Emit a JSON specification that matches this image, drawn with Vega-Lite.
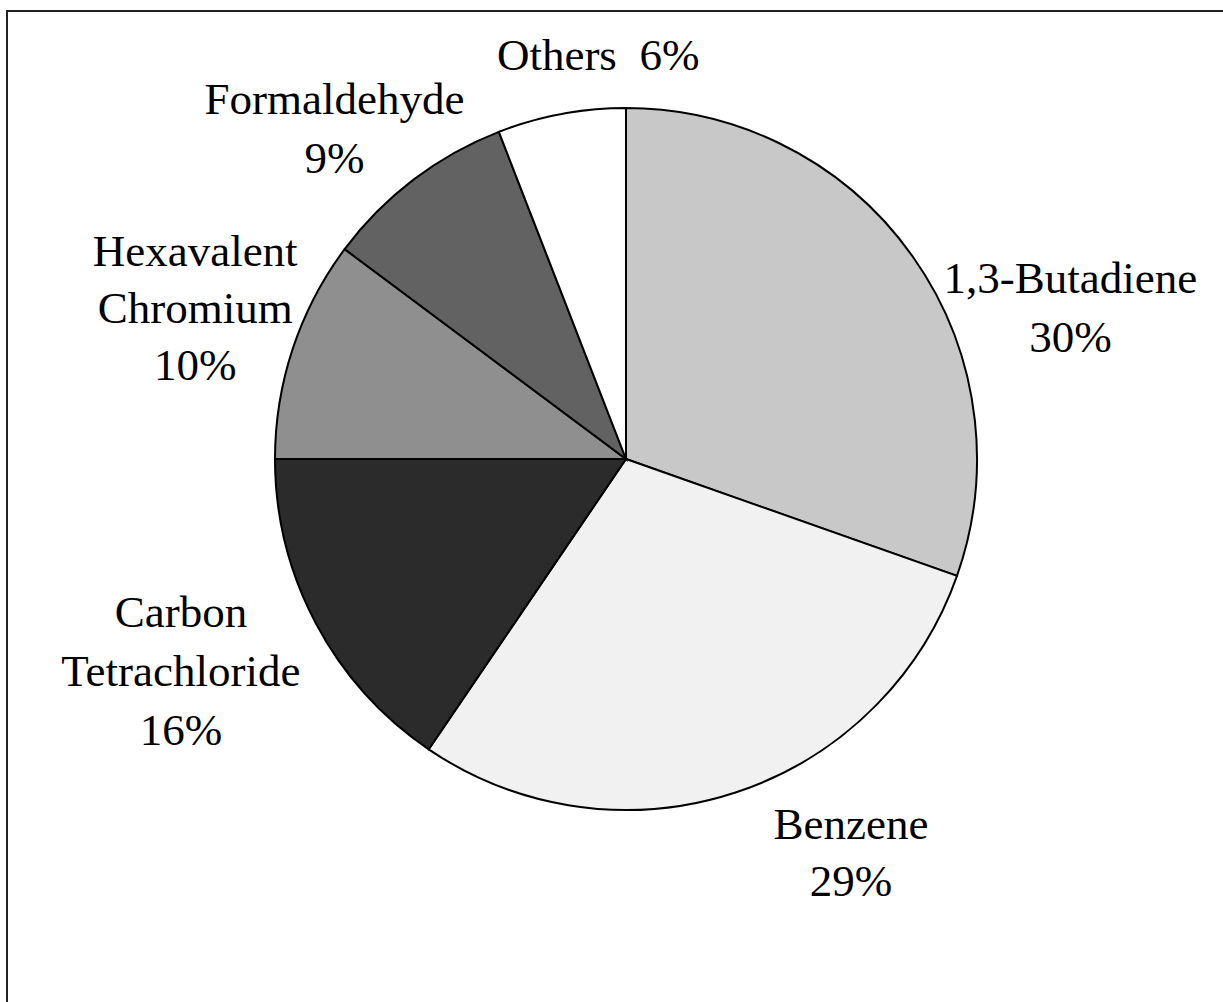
{
  "$schema": "https://vega.github.io/schema/vega-lite/v6.json",
  "width": 1223,
  "height": 1002,
  "autosize": {"type": "fit", "contains": "padding"},
  "padding": {"left": 7, "top": 11, "right": -3, "bottom": -3},
  "background": "#ffffff",
  "view": {"stroke": "#222222", "strokeWidth": 2},
  "data": {
    "values": [
      {"order": 1, "category": "1,3-Butadiene", "value": 30.4, "label": "1,3-Butadiene\n30%"},
      {"order": 2, "category": "Benzene", "value": 29.1, "label": "Benzene\n29%"},
      {"order": 3, "category": "Carbon Tetrachloride", "value": 15.5, "label": "Carbon\nTetrachloride\n16%"},
      {"order": 4, "category": "Hexavalent Chromium", "value": 10.2, "label": "Hexavalent\nChromium\n10%"},
      {"order": 5, "category": "Formaldehyde", "value": 8.9, "label": "Formaldehyde\n9%"},
      {"order": 6, "category": "Others", "value": 5.9, "label": "Others \u00a06%"}
    ]
  },
  "transform": [
    {"stack": "value", "groupby": [], "sort": [{"field": "order", "order": "ascending"}], "as": ["v0", "v1"]},
    {"calculate": "(datum.v0 + datum.v1) / 2", "as": "mid"}
  ],
  "layer": [
    {
      "mark": {"type": "arc", "outerRadius": 351, "stroke": "#000000", "strokeWidth": 2, "x": 619, "y": 448},
      "encoding": {
        "theta": {"field": "v0", "type": "quantitative", "scale": {"domain": [0, 100]}},
        "theta2": {"field": "v1"},
        "color": {
          "field": "category",
          "type": "nominal",
          "scale": {
            "domain": ["1,3-Butadiene", "Benzene", "Carbon Tetrachloride", "Hexavalent Chromium", "Formaldehyde", "Others"],
            "range": ["#c8c8c8", "#f1f1f1", "#2b2b2b", "#8f8f8f", "#626262", "#ffffff"]
          },
          "legend": null
        }
      }
    },
    {
      "transform": [{"filter": "datum.order == 1"}],
      "mark": {"type": "text", "radius": 455, "x": 619, "y": 448, "dx": 73, "dy": 83, "font": "Liberation Serif", "fontSize": 45, "lineBreak": "\n", "lineHeight": 59, "align": "center", "baseline": "middle", "color": "#000000"},
      "encoding": {"theta": {"field": "mid", "type": "quantitative", "scale": {"domain": [0, 100]}}, "text": {"field": "label"}}
    },
    {
      "transform": [{"filter": "datum.order == 2"}],
      "mark": {"type": "text", "radius": 455, "x": 619, "y": 448, "dx": 83, "dy": -66, "font": "Liberation Serif", "fontSize": 45, "lineBreak": "\n", "lineHeight": 57, "align": "center", "baseline": "middle", "color": "#000000"},
      "encoding": {"theta": {"field": "mid", "type": "quantitative", "scale": {"domain": [0, 100]}}, "text": {"field": "label"}}
    },
    {
      "transform": [{"filter": "datum.order == 3"}],
      "mark": {"type": "text", "radius": 455, "x": 619, "y": 448, "dx": -43, "dy": -59, "font": "Liberation Serif", "fontSize": 45, "lineBreak": "\n", "lineHeight": 59, "align": "center", "baseline": "middle", "color": "#000000"},
      "encoding": {"theta": {"field": "mid", "type": "quantitative", "scale": {"domain": [0, 100]}}, "text": {"field": "label"}}
    },
    {
      "transform": [{"filter": "datum.order == 4"}],
      "mark": {"type": "text", "radius": 455, "x": 619, "y": 448, "dx": 1, "dy": -64, "font": "Liberation Serif", "fontSize": 45, "lineBreak": "\n", "lineHeight": 57, "align": "center", "baseline": "middle", "color": "#000000"},
      "encoding": {"theta": {"field": "mid", "type": "quantitative", "scale": {"domain": [0, 100]}}, "text": {"field": "label"}}
    },
    {
      "transform": [{"filter": "datum.order == 5"}],
      "mark": {"type": "text", "radius": 455, "x": 619, "y": 448, "dx": -16, "dy": 3, "font": "Liberation Serif", "fontSize": 45, "lineBreak": "\n", "lineHeight": 59, "align": "center", "baseline": "middle", "color": "#000000"},
      "encoding": {"theta": {"field": "mid", "type": "quantitative", "scale": {"domain": [0, 100]}}, "text": {"field": "label"}}
    },
    {
      "transform": [{"filter": "datum.order == 6"}],
      "mark": {"type": "text", "radius": 455, "x": 619, "y": 448, "dx": 56, "dy": 44, "font": "Liberation Serif", "fontSize": 45, "lineBreak": "\n", "lineHeight": 57, "align": "center", "baseline": "middle", "color": "#000000"},
      "encoding": {"theta": {"field": "mid", "type": "quantitative", "scale": {"domain": [0, 100]}}, "text": {"field": "label"}}
    }
  ]
}
